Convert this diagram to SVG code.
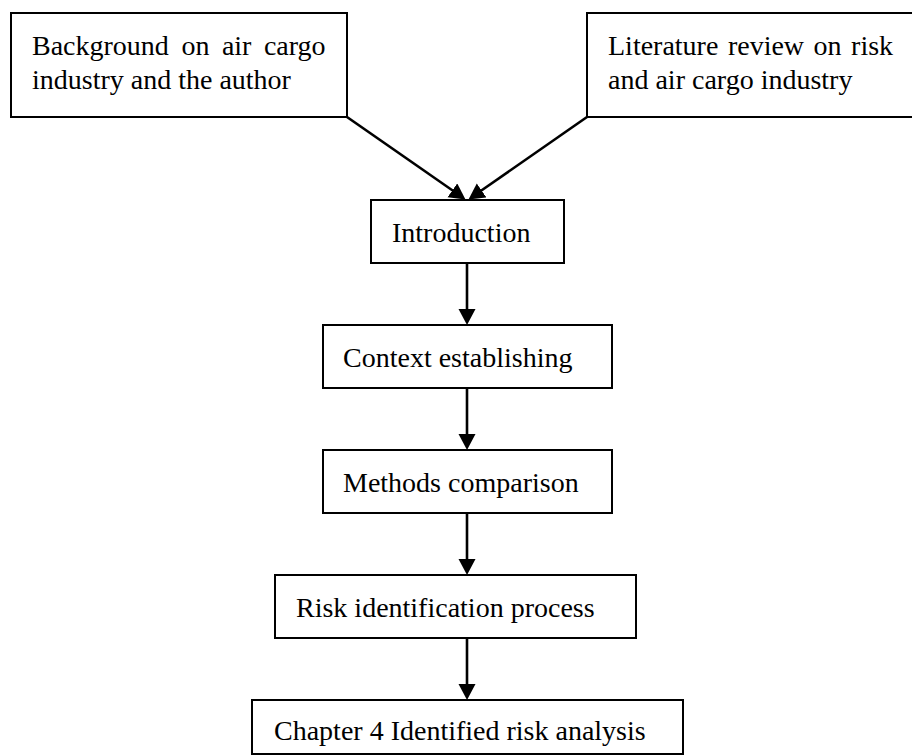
<svg xmlns="http://www.w3.org/2000/svg" width="912" height="756" viewBox="0 0 912 756">
<style>
.box{fill:#fff;stroke:#000;stroke-width:2}
.t{font-family:"Liberation Serif","Times New Roman",serif;font-size:28px;fill:#000}
.c{stroke:#000;stroke-width:2.6;fill:none}
</style>
<defs>
<marker id="ah" markerUnits="userSpaceOnUse" markerWidth="18" markerHeight="18" viewBox="0 0 18 18" refX="6" refY="8.5" orient="auto">
<path d="M0,0 L16,8.5 L0,17 z" fill="#000"/>
</marker>
</defs>
<rect width="912" height="756" fill="#fff"/>
<g id="connectors">
<line class="c" x1="347" y1="117" x2="457.3" y2="193.8" marker-end="url(#ah)"/>
<line class="c" x1="587" y1="117" x2="476.7" y2="193.8" marker-end="url(#ah)"/>
<line class="c" x1="467" y1="263" x2="467" y2="315" marker-end="url(#ah)"/>
<line class="c" x1="467" y1="388" x2="467" y2="440" marker-end="url(#ah)"/>
<line class="c" x1="467" y1="513" x2="467" y2="565" marker-end="url(#ah)"/>
<line class="c" x1="467" y1="638" x2="467" y2="690" marker-end="url(#ah)"/>
</g>
<g id="background">
<rect class="box" x="11" y="13" width="336" height="104"/>
<text class="t" y="55"><tspan x="32">Background</tspan><tspan x="181.4">on</tspan><tspan x="221.9">air</tspan><tspan x="263.9">cargo</tspan></text>
<text class="t" x="32" y="89">industry and the author</text>
</g>
<g id="literature">
<rect class="box" x="587" y="13" width="330" height="104"/>
<text class="t" y="55"><tspan x="608">Literature</tspan><tspan x="727.9">review</tspan><tspan x="813.6">on</tspan><tspan x="851.1">risk</tspan></text>
<text class="t" x="608" y="89">and air cargo industry</text>
</g>
<g id="introduction">
<rect class="box" x="371" y="200" width="193" height="63"/>
<text class="t" x="392" y="242">Introduction</text>
</g>
<g id="context">
<rect class="box" x="323" y="325" width="289" height="63"/>
<text class="t" x="343" y="367">Context establishing</text>
</g>
<g id="methods">
<rect class="box" x="323" y="450" width="289" height="63"/>
<text class="t" x="343" y="492">Methods comparison</text>
</g>
<g id="risk">
<rect class="box" x="275" y="575" width="361" height="63"/>
<text class="t" x="296" y="617">Risk identification process</text>
</g>
<g id="chapter4">
<rect class="box" x="252" y="700" width="431" height="54"/>
<text class="t" x="274" y="740">Chapter 4 Identified risk analysis</text>
</g>
</svg>
